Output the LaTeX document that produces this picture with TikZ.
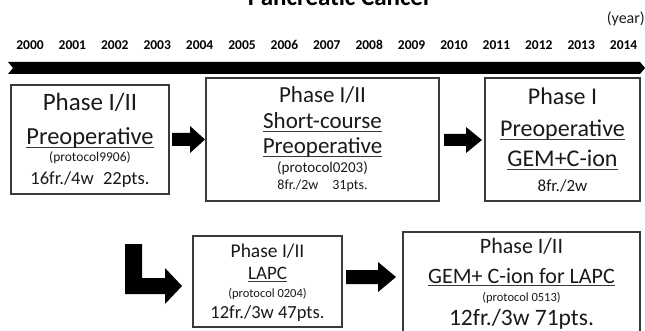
\documentclass[tikz,border=0pt]{standalone}
\usepackage{fontspec}
\setmainfont{Carlito}
\definecolor{frame}{HTML}{3A3A3A}
\definecolor{ink}{HTML}{1A1A1A}
\newcommand\fs[1]{\fontsize{#1}{#1}\selectfont}
\newcommand\myul[1]{\setbox0\hbox{#1}\rlap{\color{frame}\rule[-2.8pt]{\wd0}{1pt}}\box0}
\begin{document}
\begin{tikzpicture}[x=1pt,y=-1pt,
  boxframe/.style={draw=frame,line width=1.4pt,fill=white,inner sep=0pt},
  txt/.style={anchor=base,inner sep=0pt,text=ink},
  yr/.style={anchor=base,inner sep=0pt,font=\bfseries\fs{13.5}},
  blk/.style={fill=black}]
\useasboundingbox (0,0) rectangle (645,331);
% title (clipped at top)
\node[anchor=base,inner sep=0pt,font=\bfseries\fs{25}] (title) at (340,6) {Pancreatic Cancer};
\node[anchor=base east,inner sep=0pt,font=\fs{16},text=ink] (year) at (645,24) {(year)};
\foreach \y [count=\i from 0] in {2000,...,2014}{
  \node[yr] (y\y) at ({30+42.4*\i},50) {\y};
}
% timeline bar
\fill[black] (8,62) -- (640,62) -- (645,68) -- (640,74) -- (8,74) -- (13,68) -- cycle;
% boxes
\path[boxframe] (11,85) rectangle (169,194) coordinate (b1);
\path[boxframe] (206,78) rectangle (439,201) coordinate (b2);
\path[boxframe] (485,78) rectangle (640,201) coordinate (b3);
\path[boxframe] (193,236) rectangle (342,327) coordinate (b4);
\path[boxframe] (403,232) rectangle (640,340) coordinate (b5);
% box 1
\node[txt,font=\fs{25}] (b1a) at (90,111) {Phase I/II};
\node[txt,font=\fs{24.5}] (b1b) at (90,145) {\myul{Preoperative}};
\node[txt,font=\fs{13.5}] (b1c) at (90,162) {(protocol9906)};
\node[txt,font=\fs{18.5}] (b1d) at (90,185) {16fr./4w\enspace 22pts.};
% box 2
\node[txt,font=\fs{23}] (b2a) at (322.5,103) {Phase I/II};
\node[txt,font=\fs{23}] (b2b) at (322.5,129) {\myul{Short-course}};
\node[txt,font=\fs{23}] (b2c) at (322.5,154) {\myul{Preoperative}};
\node[txt,font=\fs{15}] (b2d) at (322.5,173) {(protocol0203)};
\node[txt,font=\fs{14}] (b2e) at (322.5,190) {8fr./2w\quad 31pts.};
% box 3
\node[txt,font=\fs{24}] (b3a) at (562.5,105) {Phase I};
\node[txt,font=\fs{24}] (b3b) at (562.5,137) {\myul{Preoperative}};
\node[txt,font=\fs{24}] (b3c) at (562.5,167) {\myul{GEM+C-ion}};
\node[txt,font=\fs{17}] (b3d) at (562.5,192) {8fr./2w};
% box 4
\node[txt,font=\fs{19.5}] (b4a) at (267.5,257) {Phase I/II};
\node[txt,font=\fs{19}] (b4b) at (267.5,279) {\myul{LAPC}};
\node[txt,font=\fs{12.5}] (b4c) at (267.5,297) {(protocol 0204)};
\node[txt,font=\fs{18.5}] (b4d) at (267.5,318) {12fr./3w 47pts.};
% box 5
\node[txt,font=\fs{22}] (b5a) at (521.5,253) {Phase I/II};
\node[txt,font=\fs{22}] (b5b) at (521.5,283) {\myul{GEM+ C-ion for LAPC}};
\node[txt,font=\fs{12.5}] (b5c) at (521.5,301) {(protocol 0513)};
\node[txt,font=\fs{23.5}] (b5d) at (521.5,325) {12fr./3w 71pts.};
% block arrows
\fill[blk] (172,133) -- (190,133) -- (190,126) -- (205,139.5) -- (190,153) -- (190,146) -- (172,146) -- cycle;
\fill[blk] (444,134) -- (466,134) -- (466,127) -- (482,140) -- (466,153) -- (466,146) -- (444,146) -- cycle;
\fill[blk] (346,270) -- (378,270) -- (378,262) -- (396,277) -- (378,292) -- (378,284) -- (346,284) -- cycle;
\fill[blk] (125,244) -- (142,244) -- (142,278) -- (165,278) -- (165,268) -- (182,286) -- (165,304) -- (165,294) -- (125,294) -- cycle;
\end{tikzpicture}
\end{document}
